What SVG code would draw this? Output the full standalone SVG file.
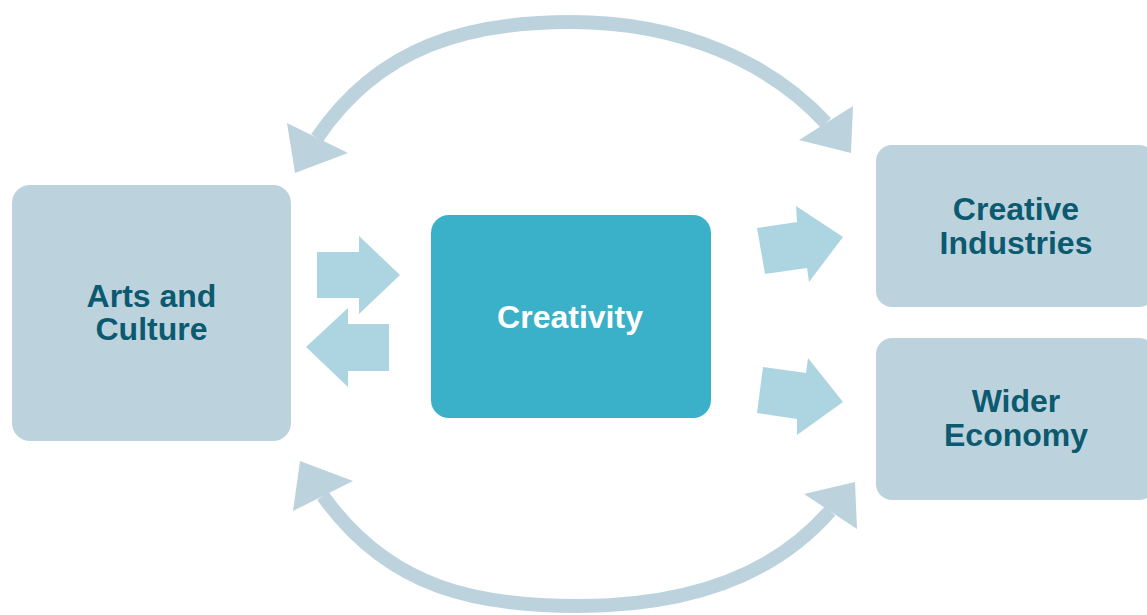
<svg xmlns="http://www.w3.org/2000/svg" width="1147" height="615" viewBox="0 0 1147 615">
  <style>
    .box { fill: #BCD3DE; }
    .core { fill: #3BB0C9; }
    .lbl { font-family: "Liberation Sans", Arial, sans-serif; font-weight: bold; font-size: 32px; text-anchor: middle; fill: #0C5A6F; }
    .lbl-w { fill: #FFFFFF; }
    .arc { fill: none; stroke: #BCD3DE; stroke-width: 14; }
    .arc-head { fill: #BCD3DE; }
    .block { fill: #ADD5E1; }
  </style>
  <rect width="1147" height="615" fill="#FFFFFF"/>

  <g id="connectors">
    <path class="arc" d="M317,138 C380,45 470,22 571,22 C680,22 770,62 826,123"/>
    <polygon class="arc-head" points="287,123 295,173 348,153"/>
    <polygon class="arc-head" points="853,106 851,153 799,140"/>
    <path class="arc" d="M323,496 C390,590 480,606 578,606 C680,606 770,580 830,511"/>
    <polygon class="arc-head" points="300,461 293,511 353,481"/>
    <polygon class="arc-head" points="855,482 857,529 804,494"/>
    <polygon class="block" points="317,252 359,252 359,236 400,275 359,314 359,298 317,298"/>
    <polygon class="block" points="389,324 348,324 348,308 306,347 348,387 348,371 389,371"/>
    <polygon class="block" points="757,228 797,222 796,206 843,237 809,282 807,268 765,274"/>
    <polygon class="block" points="763,367 806,373 808,358 843,402 797,435 797,419 757,413"/>
  </g>

  <g id="node-arts">
    <rect class="box" x="12" y="185" width="279" height="256" rx="18"/>
    <text class="lbl" x="151.5" y="307">Arts and</text>
    <text class="lbl" x="151.5" y="340">Culture</text>
  </g>

  <g id="node-creativity">
    <rect class="core" x="431" y="215" width="280" height="203" rx="18"/>
    <text class="lbl lbl-w" x="570" y="328">Creativity</text>
  </g>

  <g id="node-creative-industries">
    <rect class="box" x="876" y="145" width="279" height="162" rx="16"/>
    <text class="lbl" x="1016" y="220">Creative</text>
    <text class="lbl" x="1016" y="254">Industries</text>
  </g>

  <g id="node-wider-economy">
    <rect class="box" x="876" y="338" width="279" height="162" rx="16"/>
    <text class="lbl" x="1016" y="412">Wider</text>
    <text class="lbl" x="1016" y="446">Economy</text>
  </g>
</svg>
